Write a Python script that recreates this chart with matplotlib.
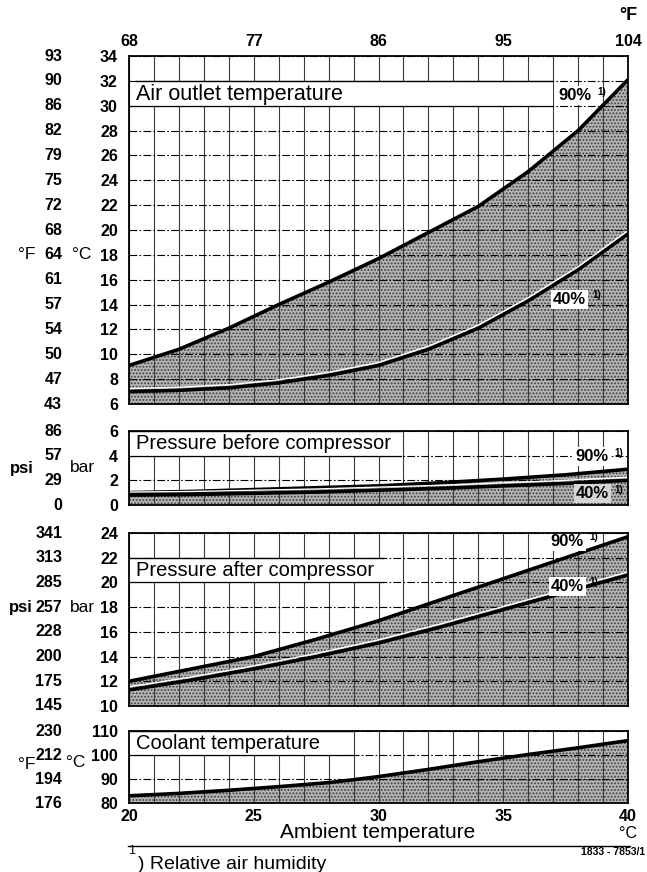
import matplotlib
matplotlib.use('Agg')
import matplotlib.pyplot as plt
from matplotlib.patches import Rectangle
from matplotlib.lines import Line2D
import matplotlib.transforms as mtransforms

plt.rcParams['font.family'] = ['Liberation Sans', 'DejaVu Sans']
plt.rcParams['hatch.linewidth'] = 0.9

# ---------------- data ----------------
ambient = [20, 22, 24, 26, 28, 30, 32, 34, 36, 38, 40]
air_out_90 = [9.1, 10.4, 12.1, 14.0, 15.8, 17.7, 19.8, 21.9, 24.7, 28.0, 32.1]
air_out_40 = [7.0, 7.1, 7.3, 7.7, 8.3, 9.1, 10.4, 12.1, 14.3, 16.8, 19.7]

ambient_p = [20, 22.5, 25, 27.5, 30, 32.5, 35, 37.5, 40]
p_before_90 = [1.0, 1.1, 1.25, 1.4, 1.55, 1.8, 2.1, 2.45, 2.9]
p_before_40 = [0.8, 0.85, 0.95, 1.05, 1.2, 1.35, 1.55, 1.75, 2.0]
p_after_90 = [12.0, 13.0, 14.0, 15.4, 16.9, 18.6, 20.3, 22.0, 23.7]
p_after_40 = [11.3, 12.1, 13.0, 14.0, 15.1, 16.4, 17.8, 19.2, 20.6]

ambient_c = [20, 22, 24, 26, 28, 29, 30, 32, 34, 36, 38, 40]
coolant = [83.0, 84.0, 85.3, 86.8, 88.5, 89.7, 91.0, 94.0, 97.2, 100.2, 103.0, 106.0]

x_ticks_c = [20, 25, 30, 35, 40]
x_ticks_f = ['68', '77', '86', '95', '104']

air_ticks_c = [6, 8, 10, 12, 14, 16, 18, 20, 22, 24, 26, 28, 30, 32, 34]
air_ticks_f = ['43', '47', '50', '54', '57', '61', '64', '68', '72', '75', '79', '82', '86', '90', '93']
pb_ticks_bar = [0, 2, 4, 6]
pb_ticks_psi = ['0', '29', '57', '86']
pa_ticks_bar = [10, 12, 14, 16, 18, 20, 22, 24]
pa_ticks_psi = ['145', '175', '200', '228', '257', '285', '313', '341']
cool_ticks_c = [80, 90, 100, 110]
cool_ticks_f = ['176', '194', '212', '230']

titles = ['Air outlet temperature', 'Pressure before compressor',
          'Pressure after compressor', 'Coolant temperature']

# ---------------- figure ----------------
W, H = 647, 872
fig = plt.figure(figsize=(W / 100, H / 100), dpi=100)

def frac_box(top, bottom, left=129, right=628):
    return [left / W, (H - bottom) / H, (right - left) / W, (bottom - top) / H]

ax1 = fig.add_axes(frac_box(56, 404))
ax2 = fig.add_axes(frac_box(431, 505))
ax3 = fig.add_axes(frac_box(533, 706))
ax4 = fig.add_axes(frac_box(731, 803))

SHADE_FC = '#b4b4b4'
SHADE_EC = '#404040'
TICKFONT = dict(fontsize=11.5, fontweight='bold')


def base(ax, ylim, yticks, alt_labels):
    ax.set_xlim(20, 40)
    ax.set_ylim(*ylim)
    ax.set_xticks(x_ticks_c)
    ax.set_xticks(range(20, 41), minor=True)
    ax.set_yticks(yticks)
    ax.set_yticklabels([str(v) for v in yticks], **TICKFONT)
    ax.set_axisbelow(False)
    ax.grid(axis='x', which='both', color='#3a3a3a', lw=0.8, ls='-')
    ax.grid(axis='y', which='major', color='black', lw=0.8, ls=(0, (7, 2, 1.5, 2)))
    ax.tick_params(axis='both', which='both', length=0)
    ax.tick_params(axis='y', pad=8)
    ax.set_xticklabels([])
    for s in ax.spines.values():
        s.set_linewidth(1.3)
        s.set_zorder(5)
    tr = mtransforms.blended_transform_factory(ax.transAxes, ax.transData)
    for v, lab in zip(yticks, alt_labels):
        ax.text(-0.134, v, lab, transform=tr, ha='right', va='center',
                clip_on=False, **TICKFONT)


def shade(ax, x, y, lower):
    ax.fill_between(x, lower, y, facecolor=SHADE_FC, edgecolor=SHADE_EC,
                    hatch='.....', linewidth=0, zorder=1)


def curve(ax, x, y, white_edge=False):
    ax.plot(x, y, color='black', lw=2.6, zorder=3, solid_capstyle='butt')
    if white_edge:
        off = mtransforms.offset_copy(ax.transData, fig=fig, x=0, y=2.2, units='points')
        ax.plot(x, y, color='white', lw=1.0, zorder=3.1, transform=off)


def label_box(ax, x0, x1, y0, y1, text, ytext, fs=14.5):
    ax.add_patch(Rectangle((x0, y0), x1 - x0, y1 - y0, facecolor='white',
                           edgecolor='none', zorder=2.6))
    ax.plot([x0, x1], [y1, y1], color='black', lw=1.0, zorder=2.7)
    ax.plot([20, x1], [y0, y0], color='black', lw=0.9, zorder=2.7)
    ax.text(20.3, ytext, text, fontsize=fs, ha='left', va='center', zorder=3)


def pct(ax, x, y, txt, bg='white'):
    ax.text(x, y, txt, ha='left', va='center', fontsize=12, fontweight='bold',
            zorder=4, bbox=dict(boxstyle='square,pad=0.12', fc=bg, ec='none'))
    ax.annotate('1)', xy=(x, y), xytext=(28, 3), textcoords='offset points',
                ha='left', va='center', fontsize=7, fontweight='bold', zorder=4)


# ---- panel 1: air outlet temperature ----
base(ax1, (6, 34), air_ticks_c, air_ticks_f)
shade(ax1, ambient, air_out_90, 6)
curve(ax1, ambient, air_out_90)
curve(ax1, ambient, air_out_40, white_edge=True)
label_box(ax1, 20.28, 37.0, 30, 32, titles[0], 30.9, fs=15.5)
pct(ax1, 37.2, 30.8, '90%')
pct(ax1, 37.0, 14.4, '40%')
ax1.xaxis.set_ticks_position('top')
ax1.set_xticklabels(x_ticks_f, **TICKFONT)
ax1.tick_params(axis='x', pad=5, labeltop=True, labelbottom=False)

# ---- panel 2: pressure before compressor ----
base(ax2, (0, 6), pb_ticks_bar, pb_ticks_psi)
shade(ax2, ambient_p, p_before_90, 0)
curve(ax2, ambient_p, p_before_90)
curve(ax2, ambient_p, p_before_40, white_edge=True)
label_box(ax2, 20, 30.9, 4, 6, titles[1], 5.0)
pct(ax2, 37.9, 3.9, '90%')
pct(ax2, 37.9, 0.9, '40%', bg='#d4d4d4')

# ---- panel 3: pressure after compressor ----
base(ax3, (10, 24), pa_ticks_bar, pa_ticks_psi)
shade(ax3, ambient_p, p_after_90, 10)
curve(ax3, ambient_p, p_after_90)
curve(ax3, ambient_p, p_after_40, white_edge=True)
label_box(ax3, 20, 30.2, 20, 22, titles[2], 21.0)
pct(ax3, 36.9, 23.35, '90%')
pct(ax3, 36.9, 19.7, '40%')

# ---- panel 4: coolant temperature ----
base(ax4, (80, 110), cool_ticks_c, cool_ticks_f)
shade(ax4, ambient_c, coolant, 80)
curve(ax4, ambient_c, coolant)
label_box(ax4, 20, 28.95, 100, 110, titles[3], 105.0)
ax4.set_xticklabels([str(v) for v in x_ticks_c], **TICKFONT)
ax4.tick_params(axis='x', pad=4)

# ---- unit labels ----
def unit(ax, xpix, yval, txt, fs=12.5, **kw):
    tr = mtransforms.blended_transform_factory(fig.transFigure, ax.transData)
    fig.text(xpix / W, yval, txt, transform=tr, ha='center', va='center',
             fontsize=fs, **kw)

unit(ax1, 27, 18, '°F')
unit(ax1, 82, 18, '°C')
unit(ax2, 22, 3.0, 'psi', fs=12, fontweight='bold')
unit(ax2, 82, 3.0, 'bar')
unit(ax3, 21, 18, 'psi', fs=12, fontweight='bold')
unit(ax3, 82, 18, 'bar')
unit(ax4, 27, 96, '°F')
unit(ax4, 76, 97, '°C')

fig.text(628 / W, 1 - 15 / H, '°F', ha='center', va='center', fontsize=13, fontweight='bold')
fig.text(378 / W, 1 - 832 / H, 'Ambient temperature', ha='center', va='center', fontsize=15)
fig.text(628 / W, 1 - 833 / H, '°C', ha='center', va='center', fontsize=11.5)
fig.add_artist(Line2D([128 / W, 630 / W], [1 - 846 / H, 1 - 846 / H],
                      color='black', lw=1.0, transform=fig.transFigure))
fig.text(645 / W, 1 - 852 / H, '1833 - 7853/1', ha='right', va='center',
         fontsize=7.5, fontweight='bold')
fig.text(132 / W, 1 - 851 / H, '1', ha='center', va='center', fontsize=9)
fig.text(138 / W, 1 - 864 / H, ') Relative air humidity', ha='left', va='center', fontsize=14)

fig.savefig('out.png', dpi=100)
